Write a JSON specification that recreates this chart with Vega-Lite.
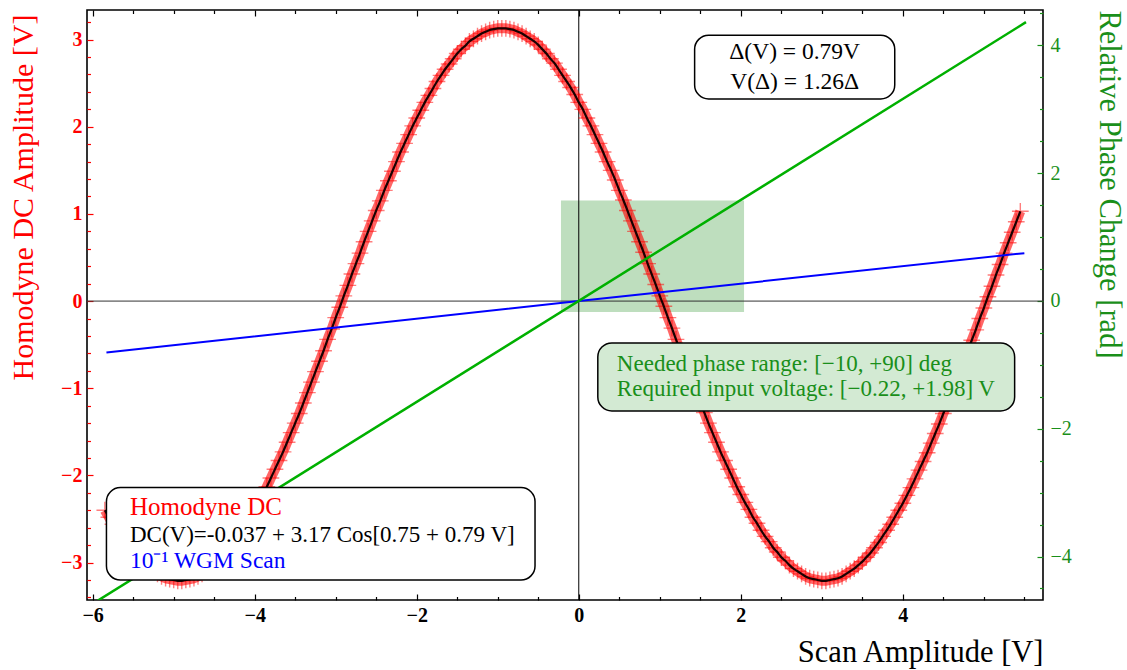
{
  "$schema": "https://vega.github.io/schema/vega-lite/v6.json",
  "width": 956,
  "height": 590,
  "autosize": "none",
  "padding": {"left": 87, "top": 10, "right": 84, "bottom": 70},
  "background": "white",
  "config": {
    "view": {"stroke": "#000000", "strokeWidth": 1.6},
    "axis": {"labelFont": "Liberation Serif", "titleFont": "Liberation Serif", "grid": false, "domain": false, "labelOverlap": false, "labelFlush": false, "labelBound": false, "titleFontWeight": "normal", "tickCount": 100},
    "text": {"font": "Liberation Serif"}
  },
  "datasets": {
    "curve": [
      {"v":-5.85,"dc":-2.40},{"v":-5.80,"dc":-2.48},{"v":-5.75,"dc":-2.56},{"v":-5.70,"dc":-2.63},{"v":-5.65,"dc":-2.70},{"v":-5.60,"dc":-2.77},{"v":-5.55,"dc":-2.83},{"v":-5.50,"dc":-2.89},{"v":-5.45,"dc":-2.94},{"v":-5.40,"dc":-2.99},
      {"v":-5.35,"dc":-3.03},{"v":-5.30,"dc":-3.07},{"v":-5.25,"dc":-3.10},{"v":-5.20,"dc":-3.13},{"v":-5.15,"dc":-3.16},{"v":-5.10,"dc":-3.18},{"v":-5.05,"dc":-3.19},{"v":-5.00,"dc":-3.20},{"v":-4.95,"dc":-3.21},{"v":-4.90,"dc":-3.21},
      {"v":-4.85,"dc":-3.20},{"v":-4.80,"dc":-3.19},{"v":-4.75,"dc":-3.18},{"v":-4.70,"dc":-3.16},{"v":-4.65,"dc":-3.13},{"v":-4.60,"dc":-3.10},{"v":-4.55,"dc":-3.07},{"v":-4.50,"dc":-3.03},{"v":-4.45,"dc":-2.99},{"v":-4.40,"dc":-2.94},
      {"v":-4.35,"dc":-2.88},{"v":-4.30,"dc":-2.83},{"v":-4.25,"dc":-2.77},{"v":-4.20,"dc":-2.70},{"v":-4.15,"dc":-2.63},{"v":-4.10,"dc":-2.56},{"v":-4.05,"dc":-2.48},{"v":-4.00,"dc":-2.40},{"v":-3.95,"dc":-2.31},{"v":-3.90,"dc":-2.22},
      {"v":-3.85,"dc":-2.13},{"v":-3.80,"dc":-2.03},{"v":-3.75,"dc":-1.93},{"v":-3.70,"dc":-1.83},{"v":-3.65,"dc":-1.73},{"v":-3.60,"dc":-1.62},{"v":-3.55,"dc":-1.51},{"v":-3.50,"dc":-1.40},{"v":-3.45,"dc":-1.29},{"v":-3.40,"dc":-1.17},
      {"v":-3.35,"dc":-1.05},{"v":-3.30,"dc":-0.93},{"v":-3.25,"dc":-0.81},{"v":-3.20,"dc":-0.69},{"v":-3.15,"dc":-0.57},{"v":-3.10,"dc":-0.44},{"v":-3.05,"dc":-0.32},{"v":-3.00,"dc":-0.19},{"v":-2.95,"dc":-0.07},{"v":-2.90,"dc":0.06},
      {"v":-2.85,"dc":0.18},{"v":-2.80,"dc":0.31},{"v":-2.75,"dc":0.43},{"v":-2.70,"dc":0.55},{"v":-2.65,"dc":0.68},{"v":-2.60,"dc":0.80},{"v":-2.55,"dc":0.92},{"v":-2.50,"dc":1.04},{"v":-2.45,"dc":1.15},{"v":-2.40,"dc":1.27},
      {"v":-2.35,"dc":1.38},{"v":-2.30,"dc":1.49},{"v":-2.25,"dc":1.60},{"v":-2.20,"dc":1.71},{"v":-2.15,"dc":1.81},{"v":-2.10,"dc":1.91},{"v":-2.05,"dc":2.01},{"v":-2.00,"dc":2.10},{"v":-1.95,"dc":2.19},{"v":-1.90,"dc":2.28},
      {"v":-1.85,"dc":2.36},{"v":-1.80,"dc":2.44},{"v":-1.75,"dc":2.52},{"v":-1.70,"dc":2.59},{"v":-1.65,"dc":2.66},{"v":-1.60,"dc":2.72},{"v":-1.55,"dc":2.78},{"v":-1.50,"dc":2.84},{"v":-1.45,"dc":2.89},{"v":-1.40,"dc":2.93},
      {"v":-1.35,"dc":2.98},{"v":-1.30,"dc":3.01},{"v":-1.25,"dc":3.04},{"v":-1.20,"dc":3.07},{"v":-1.15,"dc":3.09},{"v":-1.10,"dc":3.11},{"v":-1.05,"dc":3.12},{"v":-1.00,"dc":3.13},{"v":-0.95,"dc":3.13},{"v":-0.90,"dc":3.13},
      {"v":-0.85,"dc":3.12},{"v":-0.80,"dc":3.11},{"v":-0.75,"dc":3.09},{"v":-0.70,"dc":3.07},{"v":-0.65,"dc":3.04},{"v":-0.60,"dc":3.01},{"v":-0.55,"dc":2.98},{"v":-0.50,"dc":2.94},{"v":-0.45,"dc":2.89},{"v":-0.40,"dc":2.84},
      {"v":-0.35,"dc":2.78},{"v":-0.30,"dc":2.73},{"v":-0.25,"dc":2.66},{"v":-0.20,"dc":2.59},{"v":-0.15,"dc":2.52},{"v":-0.10,"dc":2.45},{"v":-0.05,"dc":2.37},{"v":0.00,"dc":2.28},{"v":0.05,"dc":2.20},{"v":0.10,"dc":2.10},
      {"v":0.15,"dc":2.01},{"v":0.20,"dc":1.91},{"v":0.25,"dc":1.81},{"v":0.30,"dc":1.71},{"v":0.35,"dc":1.60},{"v":0.40,"dc":1.50},{"v":0.45,"dc":1.39},{"v":0.50,"dc":1.27},{"v":0.55,"dc":1.16},{"v":0.60,"dc":1.04},
      {"v":0.65,"dc":0.92},{"v":0.70,"dc":0.80},{"v":0.75,"dc":0.68},{"v":0.80,"dc":0.56},{"v":0.85,"dc":0.43},{"v":0.90,"dc":0.31},{"v":0.95,"dc":0.19},{"v":1.00,"dc":0.06},{"v":1.05,"dc":-0.06},{"v":1.10,"dc":-0.19},
      {"v":1.15,"dc":-0.31},{"v":1.20,"dc":-0.44},{"v":1.25,"dc":-0.56},{"v":1.30,"dc":-0.69},{"v":1.35,"dc":-0.81},{"v":1.40,"dc":-0.93},{"v":1.45,"dc":-1.05},{"v":1.50,"dc":-1.17},{"v":1.55,"dc":-1.28},{"v":1.60,"dc":-1.40},
      {"v":1.65,"dc":-1.51},{"v":1.70,"dc":-1.62},{"v":1.75,"dc":-1.73},{"v":1.80,"dc":-1.83},{"v":1.85,"dc":-1.93},{"v":1.90,"dc":-2.03},{"v":1.95,"dc":-2.13},{"v":2.00,"dc":-2.22},{"v":2.05,"dc":-2.31},{"v":2.10,"dc":-2.39},
      {"v":2.15,"dc":-2.48},{"v":2.20,"dc":-2.55},{"v":2.25,"dc":-2.63},{"v":2.30,"dc":-2.70},{"v":2.35,"dc":-2.76},{"v":2.40,"dc":-2.83},{"v":2.45,"dc":-2.88},{"v":2.50,"dc":-2.94},{"v":2.55,"dc":-2.98},{"v":2.60,"dc":-3.03},
      {"v":2.65,"dc":-3.07},{"v":2.70,"dc":-3.10},{"v":2.75,"dc":-3.13},{"v":2.80,"dc":-3.16},{"v":2.85,"dc":-3.18},{"v":2.90,"dc":-3.19},{"v":2.95,"dc":-3.20},{"v":3.00,"dc":-3.21},{"v":3.05,"dc":-3.21},{"v":3.10,"dc":-3.20},
      {"v":3.15,"dc":-3.19},{"v":3.20,"dc":-3.18},{"v":3.25,"dc":-3.16},{"v":3.30,"dc":-3.13},{"v":3.35,"dc":-3.10},{"v":3.40,"dc":-3.07},{"v":3.45,"dc":-3.03},{"v":3.50,"dc":-2.99},{"v":3.55,"dc":-2.94},{"v":3.60,"dc":-2.89},
      {"v":3.65,"dc":-2.83},{"v":3.70,"dc":-2.77},{"v":3.75,"dc":-2.70},{"v":3.80,"dc":-2.63},{"v":3.85,"dc":-2.56},{"v":3.90,"dc":-2.48},{"v":3.95,"dc":-2.40},{"v":4.00,"dc":-2.32},{"v":4.05,"dc":-2.23},{"v":4.10,"dc":-2.14},
      {"v":4.15,"dc":-2.04},{"v":4.20,"dc":-1.94},{"v":4.25,"dc":-1.84},{"v":4.30,"dc":-1.74},{"v":4.35,"dc":-1.63},{"v":4.40,"dc":-1.52},{"v":4.45,"dc":-1.41},{"v":4.50,"dc":-1.29},{"v":4.55,"dc":-1.18},{"v":4.60,"dc":-1.06},
      {"v":4.65,"dc":-0.94},{"v":4.70,"dc":-0.82},{"v":4.75,"dc":-0.70},{"v":4.80,"dc":-0.57},{"v":4.85,"dc":-0.45},{"v":4.90,"dc":-0.33},{"v":4.95,"dc":-0.20},{"v":5.00,"dc":-0.08},{"v":5.05,"dc":0.05},{"v":5.10,"dc":0.17},
      {"v":5.15,"dc":0.30},{"v":5.20,"dc":0.42},{"v":5.25,"dc":0.55},{"v":5.30,"dc":0.67},{"v":5.35,"dc":0.79},{"v":5.40,"dc":0.91},{"v":5.45,"dc":1.03}
    ],
    "wgm": [{"v":-5.83,"wgm":-0.59},{"v":0,"wgm":0},{"v":5.50,"wgm":0.55}],
    "phase": [{"v":-5.95,"phase":-4.70},{"v":5.52,"phase":4.36}]
  },
  "layer": [
    {
      "data": {"values": [{"x1": -0.22, "x2": 2.04, "p1": -0.1745, "p2": 1.5708}]},
      "mark": {"type": "rect", "fill": "#bedebe", "opacity": 1},
      "encoding": {
        "x": {"field": "x1", "type": "quantitative", "scale": {"domain": [-6.07, 5.73], "nice": false, "zero": false},
          "axis": {"orient": "top", "title": null, "labels": false, "tickCount": 100, "values": [-6,-5.5,-5,-4.5,-4,-3.5,-3,-2.5,-2,-1.5,-1,-0.5,0,0.5,1,1.5,2,2.5,3,3.5,4,4.5,5,5.5],
            "tickColor": "#000000", "tickWidth": 1.2, "tickSize": {"condition": {"test": "abs(datum.value % 2) < 0.001", "value": -6}, "value": -3.5}}},
        "x2": {"field": "x2"},
        "y": {"field": "p1", "type": "quantitative", "scale": {"domain": [-4.68, 4.55], "nice": false, "zero": false},
          "axis": {"orient": "right", "title": "Relative Phase Change [rad]", "tickCount": 100, "values": [-4.5,-4,-3.5,-3,-2.5,-2,-1.5,-1,-0.5,0,0.5,1,1.5,2,2.5,3,3.5,4,4.5],
            "labelExpr": "abs(datum.value % 2) < 0.001 ? replace(format(datum.value, 'd'), '-', '−') : ''",
            "labelOverlap": false,
            "labelColor": "#1a8f1a", "labelFontSize": {"condition": {"test": "abs(datum.value % 2) < 0.001", "value": 20}, "value": 0.1}, "labelPadding": 13,
            "tickColor": "#1a8f1a", "tickWidth": 1.2, "tickSize": {"condition": {"test": "abs(datum.value % 2) < 0.001", "value": -6}, "value": -3.5},
            "titleColor": "#1a8f1a", "titleFontSize": 30.5, "titleAngle": 90, "titleX": 56, "titleY": 174, "titleAlign": "center", "titleBaseline": "alphabetic"}},
        "y2": {"field": "p2"}
      }
    },
    {
      "layer": [
        {
          "data": {"values": [{}]},
          "mark": {"type": "rule", "color": "#333333", "strokeWidth": 1},
          "encoding": {"y": {"datum": 0, "type": "quantitative", "scale": {"domain": [-3.43, 3.34], "nice": false, "zero": false}}}
        },
        {
          "data": {"values": [{}]},
          "mark": {"type": "rule", "color": "#000000", "strokeWidth": 1},
          "encoding": {"x": {"datum": 0, "type": "quantitative", "scale": {"domain": [-6.07, 5.73], "nice": false, "zero": false}}}
        },
        {
          "data": {"name": "curve"},
          "mark": {"type": "line", "color": "#ff0000", "strokeWidth": 10, "opacity": 0.6, "interpolate": "monotone"},
          "encoding": {
            "x": {"field": "v", "type": "quantitative", "title": "Scan Amplitude [V]", "scale": {"domain": [-6.07, 5.73], "nice": false, "zero": false},
              "axis": {"orient": "bottom", "tickCount": 100, "values": [-6,-5.5,-5,-4.5,-4,-3.5,-3,-2.5,-2,-1.5,-1,-0.5,0,0.5,1,1.5,2,2.5,3,3.5,4,4.5,5,5.5],
                "labelExpr": "abs(datum.value % 2) < 0.001 ? format(datum.value, 'd') : ''",
                "labelOverlap": false,
                "labelColor": "#000000", "labelFontSize": {"condition": {"test": "abs(datum.value % 2) < 0.001", "value": 20}, "value": 0.1}, "labelFontWeight": "bold", "labelPadding": 11,
                "tickColor": "#000000", "tickWidth": 1.2, "tickSize": {"condition": {"test": "abs(datum.value % 2) < 0.001", "value": -6}, "value": -3.5},
                "titleColor": "#000000", "titleFontSize": 30.5, "titleX": 956, "titleY": 61, "titleAlign": "right", "titleBaseline": "alphabetic"}},
            "y": {"field": "dc", "type": "quantitative", "title": "Homodyne DC Amplitude [V]", "scale": {"domain": [-3.43, 3.34], "nice": false, "zero": false},
              "axis": {"orient": "left", "tickCount": 100, "values": [-3.4,-3.2,-3,-2.8,-2.6,-2.4,-2.2,-2,-1.8,-1.6,-1.4,-1.2,-1,-0.8,-0.6,-0.4,-0.2,0,0.2,0.4,0.6,0.8,1,1.2,1.4,1.6,1.8,2,2.2,2.4,2.6,2.8,3,3.2],
                "labelExpr": "abs(datum.value - round(datum.value)) < 0.001 ? replace(format(datum.value, 'd'), '-', '−') : ''",
                "labelOverlap": false,
                "labelColor": "#ff0000", "labelFontSize": {"condition": {"test": "abs(datum.value - round(datum.value)) < 0.001", "value": 20}, "value": 0.1}, "labelFontWeight": "bold", "labelPadding": 11,
                "tickColor": "#ff0000", "tickWidth": 1.2, "tickSize": {"condition": {"test": "abs(datum.value - round(datum.value)) < 0.001", "value": -6}, "value": -3.5},
                "titleColor": "#ff0000", "titleFontSize": 30, "titleAngle": 270, "titleX": -55, "titleY": 187, "titleAlign": "center", "titleBaseline": "alphabetic"}}
          }
        },
        {
          "data": {"name": "curve"},
          "mark": {"type": "point", "shape": "M-1,0H1M0,-1V1", "filled": false, "stroke": "#ff0000", "strokeWidth": 1.4, "opacity": 0.5, "size": 280},
          "encoding": {
            "x": {"field": "v", "type": "quantitative", "title": "Scan Amplitude [V]"},
            "y": {"field": "dc", "type": "quantitative", "title": "Homodyne DC Amplitude [V]"}
          }
        },
        {
          "data": {"name": "curve"},
          "mark": {"type": "line", "color": "#1a0000", "strokeWidth": 2.2, "interpolate": "monotone"},
          "encoding": {
            "x": {"field": "v", "type": "quantitative", "title": "Scan Amplitude [V]"},
            "y": {"field": "dc", "type": "quantitative", "title": "Homodyne DC Amplitude [V]"}
          }
        },
        {
          "data": {"name": "wgm"},
          "mark": {"type": "line", "color": "#0000ff", "strokeWidth": 2},
          "encoding": {
            "x": {"field": "v", "type": "quantitative", "title": "Scan Amplitude [V]"},
            "y": {"field": "wgm", "type": "quantitative", "title": "Homodyne DC Amplitude [V]"}
          }
        }
      ]
    },
    {
      "data": {"name": "phase"},
      "mark": {"type": "line", "color": "#00b000", "strokeWidth": 2.5, "clip": true},
      "encoding": {
        "x": {"field": "v", "type": "quantitative", "axis": null, "scale": {"domain": [-6.07, 5.73], "nice": false, "zero": false}},
        "y": {"field": "phase", "type": "quantitative", "axis": null, "scale": {"domain": [-4.68, 4.55], "nice": false, "zero": false}}
      }
    },
    {
      "layer": [
        {
          "data": {"values": [{"x1": 1.43, "x2": 3.90, "y1": 3.05, "y2": 2.32}, {"x1": -5.83, "x2": -0.54, "y1": -2.14, "y2": -3.20}]},
          "mark": {"type": "rect", "fill": "#ffffff", "stroke": "#000000", "strokeWidth": 1.5, "cornerRadius": 14},
          "encoding": {
            "x": {"field": "x1", "type": "quantitative", "axis": null, "scale": {"domain": [-6.07, 5.73], "nice": false, "zero": false}},
            "x2": {"field": "x2"},
            "y": {"field": "y1", "type": "quantitative", "axis": null, "scale": {"domain": [-3.43, 3.34], "nice": false, "zero": false}},
            "y2": {"field": "y2"}
          }
        },
        {
          "data": {"values": [{"x1": 0.235, "x2": 5.38, "y1": -0.48, "y2": -1.26}]},
          "mark": {"type": "rect", "fill": "#d3ead3", "stroke": "#000000", "strokeWidth": 1.5, "cornerRadius": 14},
          "encoding": {
            "x": {"field": "x1", "type": "quantitative", "axis": null},
            "x2": {"field": "x2"},
            "y": {"field": "y1", "type": "quantitative", "axis": null},
            "y2": {"field": "y2"}
          }
        },
        {
          "data": {"values": [{"v": 2.665, "y": 2.856, "t": "Δ(V) = 0.79V"}, {"v": 2.665, "y": 2.51, "t": "V(Δ) = 1.26Δ"}]},
          "mark": {"type": "text", "color": "#000000", "fontSize": 23.5, "baseline": "middle", "align": "center"},
          "encoding": {
            "x": {"field": "v", "type": "quantitative", "axis": null},
            "y": {"field": "y", "type": "quantitative", "axis": null},
            "text": {"field": "t"}
          }
        },
        {
          "data": {"values": [{"v": -5.54, "y": -2.68, "t": "DC(V)=-0.037 + 3.17 Cos[0.75 + 0.79 V]"}]},
          "mark": {"type": "text", "color": "#000000", "fontSize": 23, "baseline": "middle", "align": "left"},
          "encoding": {
            "x": {"field": "v", "type": "quantitative", "axis": null},
            "y": {"field": "y", "type": "quantitative", "axis": null},
            "text": {"field": "t"}
          }
        },
        {
          "data": {"values": [{"v": -5.54, "y": -2.36, "t": "Homodyne DC"}]},
          "mark": {"type": "text", "color": "#ff0000", "fontSize": 25, "baseline": "middle", "align": "left"},
          "encoding": {
            "x": {"field": "v", "type": "quantitative", "axis": null},
            "y": {"field": "y", "type": "quantitative", "axis": null},
            "text": {"field": "t"}
          }
        },
        {
          "data": {"values": [{"v": -5.54, "y": -2.98, "t": "10⁻¹ WGM Scan"}]},
          "mark": {"type": "text", "color": "#0000ff", "fontSize": 23.5, "baseline": "middle", "align": "left"},
          "encoding": {
            "x": {"field": "v", "type": "quantitative", "axis": null},
            "y": {"field": "y", "type": "quantitative", "axis": null},
            "text": {"field": "t"}
          }
        },
        {
          "data": {"values": [{"v": 0.47, "y": -0.72, "t": "Needed phase range: [−10, +90] deg"}, {"v": 0.47, "y": -1.01, "t": "Required input voltage: [−0.22, +1.98] V"}]},
          "mark": {"type": "text", "color": "#1a8f1a", "fontSize": 23, "baseline": "middle", "align": "left"},
          "encoding": {
            "x": {"field": "v", "type": "quantitative", "axis": null},
            "y": {"field": "y", "type": "quantitative", "axis": null},
            "text": {"field": "t"}
          }
        }
      ]
    }
  ],
  "resolve": {"scale": {"y": "independent"}, "axis": {"x": "independent", "y": "independent"}}
}
